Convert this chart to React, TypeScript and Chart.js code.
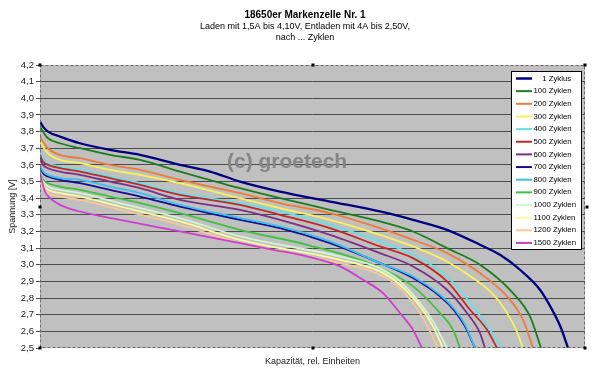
import React, { useEffect, useRef } from 'react';
import { Chart, registerables } from 'chart.js';

Chart.register(...registerables);

const FONT = '"Liberation Sans", Arial, Helvetica, sans-serif';

// ---- Data (capacity in relative units, voltage in V) ----
const seriesLabels = [
  '1 Zyklus', '100 Zyklen', '200 Zyklen', '300 Zyklen', '400 Zyklen', '500 Zyklen', '600 Zyklen',
  '700 Zyklen', '800 Zyklen', '900 Zyklen', '1000 Zyklen', '1100 Zyklen', '1200 Zyklen', '1500 Zyklen',
];
const seriesColors = [
  '#000080', '#1b7d1b', '#ef7b38', '#f8f25a', '#5fe3e8', '#c4262a', '#7b2f86',
  '#101090', '#3cbef0', '#3fc23f', '#d2f5d2', '#fafaa0', '#f5c79a', '#d03cd0',
];

const capZ1 = [0, 3, 8, 20, 40, 70, 100, 140, 170, 200, 240, 290, 340, 373, 407, 440, 460, 480, 500, 513, 521, 528];
const voltZ1 = [3.86, 3.83, 3.8, 3.77, 3.73, 3.69, 3.66, 3.6, 3.56, 3.5, 3.44, 3.38, 3.32, 3.27, 3.21, 3.12, 3.06, 2.97, 2.85, 2.72, 2.62, 2.5];

const capZ100 = [0, 3, 8, 20, 40, 70, 100, 140, 200, 240, 290, 340, 373, 407, 440, 473, 490, 501];
const voltZ100 = [3.83, 3.8, 3.76, 3.73, 3.7, 3.66, 3.63, 3.56, 3.46, 3.4, 3.33, 3.26, 3.2, 3.1, 3.0, 2.83, 2.69, 2.5];

const capZ200 = [0, 3, 8, 20, 40, 70, 100, 140, 200, 240, 290, 340, 373, 407, 440, 467, 483, 493];
const voltZ200 = [3.77, 3.74, 3.7, 3.66, 3.64, 3.6, 3.57, 3.51, 3.43, 3.37, 3.31, 3.22, 3.15, 3.07, 2.95, 2.81, 2.67, 2.5];

const capZ300 = [0, 3, 8, 20, 40, 70, 100, 140, 200, 240, 290, 340, 373, 407, 440, 455, 467, 476, 483];
const voltZ300 = [3.75, 3.71, 3.67, 3.63, 3.61, 3.57, 3.54, 3.49, 3.4, 3.34, 3.27, 3.18, 3.11, 3.02, 2.89, 2.81, 2.71, 2.61, 2.5];

const capZ400 = [0, 3, 8, 20, 40, 70, 100, 140, 200, 240, 290, 340, 373, 407, 433, 450, 462];
const voltZ400 = [3.67, 3.64, 3.61, 3.59, 3.57, 3.53, 3.49, 3.43, 3.37, 3.32, 3.24, 3.14, 3.06, 2.93, 2.75, 2.61, 2.5];

const capZ500 = [0, 3, 8, 20, 40, 70, 100, 140, 200, 240, 290, 340, 373, 407, 430, 447, 457];
const voltZ500 = [3.66, 3.62, 3.6, 3.58, 3.56, 3.52, 3.48, 3.42, 3.36, 3.3, 3.22, 3.11, 3.04, 2.9, 2.73, 2.61, 2.5];

const capZ600 = [0, 3, 8, 20, 40, 70, 100, 140, 200, 240, 290, 340, 373, 407, 427, 440, 445];
const voltZ600 = [3.64, 3.6, 3.58, 3.56, 3.54, 3.5, 3.46, 3.39, 3.33, 3.27, 3.18, 3.07, 2.99, 2.85, 2.71, 2.59, 2.5];

const capZ700 = [0, 3, 8, 20, 40, 70, 100, 140, 200, 240, 290, 340, 373, 400, 415, 425, 435];
const voltZ700 = [3.59, 3.55, 3.53, 3.51, 3.49, 3.45, 3.41, 3.35, 3.27, 3.22, 3.13, 3.01, 2.92, 2.81, 2.72, 2.63, 2.5];

const capZ800 = [0, 3, 8, 20, 40, 70, 100, 140, 200, 240, 290, 340, 373, 400, 415, 425, 435];
const voltZ800 = [3.6, 3.56, 3.54, 3.52, 3.51, 3.47, 3.43, 3.36, 3.28, 3.23, 3.14, 3.01, 2.93, 2.82, 2.73, 2.64, 2.5];

const capZ900 = [0, 3, 8, 20, 40, 70, 100, 140, 200, 267, 333, 373, 400, 413, 420];
const voltZ900 = [3.55, 3.51, 3.49, 3.47, 3.45, 3.41, 3.37, 3.31, 3.21, 3.12, 3.0, 2.87, 2.71, 2.61, 2.5];

const capZ1000 = [0, 3, 8, 20, 40, 80, 140, 200, 300, 340, 360, 380, 393, 407];
const voltZ1000 = [3.54, 3.5, 3.47, 3.45, 3.43, 3.37, 3.28, 3.17, 3.05, 2.98, 2.9, 2.77, 2.66, 2.5];

const capZ1100 = [0, 3, 8, 20, 40, 80, 140, 200, 300, 340, 360, 380, 393, 403];
const voltZ1100 = [3.52, 3.48, 3.45, 3.43, 3.41, 3.35, 3.26, 3.15, 3.03, 2.96, 2.88, 2.75, 2.63, 2.5];

const capZ1200 = [0, 3, 8, 20, 40, 80, 140, 200, 300, 340, 360, 380, 390, 398];
const voltZ1200 = [3.5, 3.46, 3.43, 3.41, 3.39, 3.33, 3.24, 3.13, 3.01, 2.94, 2.86, 2.71, 2.6, 2.5];

const capZ1500 = [0, 2, 5, 10, 20, 40, 80, 140, 200, 233, 267, 300, 323, 343, 360, 373, 382];
const voltZ1500 = [3.55, 3.5, 3.44, 3.4, 3.36, 3.32, 3.27, 3.2, 3.13, 3.09, 3.05, 2.99, 2.91, 2.83, 2.71, 2.61, 2.5];

const capacities = [capZ1, capZ100, capZ200, capZ300, capZ400, capZ500, capZ600, capZ700, capZ800, capZ900, capZ1000, capZ1100, capZ1200, capZ1500];
const voltages = [voltZ1, voltZ100, voltZ200, voltZ300, voltZ400, voltZ500, voltZ600, voltZ700, voltZ800, voltZ900, voltZ1000, voltZ1100, voltZ1200, voltZ1500];

const titleText = '18650er Markenzelle Nr. 1';
const subtitleLines = ['Laden mit 1,5A bis 4,10V, Entladen mit 4A bis 2,50V,', 'nach ... Zyklen'];
const yAxisTitle = 'Spannung [V]';
const xAxisTitle = 'Kapazität, rel. Einheiten';
const watermarkText = '(c) groetech';
const yMin = 2.5;
const yMax = 4.2;
const yStep = 0.1;
const xMax = 545;

const widthFor = (i: number) => (i === 0 ? 2.3 : 1.8);

const decorPlugin = {
  id: 'decor',
  beforeDraw(chart: any) {
    const { ctx, chartArea: a } = chart;
    ctx.save();
    ctx.fillStyle = '#ffffff';
    ctx.fillRect(0, 0, chart.width, chart.height);
    ctx.fillStyle = '#c0c0c0';
    ctx.fillRect(a.left, a.top, a.right - a.left, a.bottom - a.top);
    ctx.restore();
  },
  beforeDatasetsDraw(chart: any) {
    const { ctx, chartArea: a } = chart;
    ctx.save();
    ctx.font = `bold 21px ${FONT}`;
    ctx.fillStyle = '#858585';
    ctx.textAlign = 'left';
    ctx.textBaseline = 'middle';
    ctx.fillText(watermarkText, a.left + 187, a.top + 97);
    ctx.restore();
  },
  afterDraw(chart: any) {
    const { ctx, chartArea: a } = chart;
    ctx.save();
    // dashed plot border
    ctx.strokeStyle = '#6a6a6a';
    ctx.lineWidth = 1;
    ctx.setLineDash([3, 2]);
    ctx.strokeRect(a.left + 0.5, a.top + 0.5, a.right - a.left - 1, a.bottom - a.top - 1);
    ctx.setLineDash([]);
    // selection handles
    ctx.fillStyle = '#000';
    const mx = (a.left + a.right) / 2;
    const my = (a.top + a.bottom) / 2;
    const pts = [
      [a.left, a.top], [mx, a.top], [a.right, a.top],
      [a.left, my], [a.right + 2, my],
      [a.left, a.bottom], [mx, a.bottom], [a.right, a.bottom],
    ];
    pts.forEach(([x, y]) => ctx.fillRect(Math.round(x) - 1.5, Math.round(y) - 1.5, 3, 3));

    // legend
    const bx = a.right - 73.5;
    const by = a.top + 6.5;
    const bw = 70;
    const bh = 178;
    ctx.fillStyle = '#ffffff';
    ctx.fillRect(bx, by, bw, bh);
    ctx.strokeStyle = '#000';
    ctx.lineWidth = 1;
    ctx.strokeRect(bx, by, bw, bh);
    ctx.font = `7.8px ${FONT}`;
    ctx.textBaseline = 'middle';
    ctx.textAlign = 'left';
    const digitW = ctx.measureText('00').width;
    seriesLabels.forEach((label, i) => {
      const y = by + 7 + i * 12.65;
      ctx.strokeStyle = seriesColors[i];
      ctx.lineWidth = widthFor(i) + 0.2;
      ctx.beginPath();
      ctx.moveTo(bx + 4.5, y);
      ctx.lineTo(bx + 20.5, y);
      ctx.stroke();
      ctx.fillStyle = '#000';
      const tx = bx + 22 + (i === 0 ? digitW : 0);
      ctx.fillText(label, tx, y);
    });
    ctx.restore();
  },
};

export default function App() {
  const ref = useRef<HTMLCanvasElement>(null);

  useEffect(() => {
    document.body.style.margin = '0';
    const canvas = ref.current;
    if (!canvas) return;

    const datasets = seriesLabels.map((label, i) => ({
      label,
      data: capacities[i].map((c, j) => ({ x: c, y: voltages[i][j] })),
      borderColor: seriesColors[i],
      backgroundColor: seriesColors[i],
      borderWidth: widthFor(i),
      pointRadius: 0,
      fill: false,
      cubicInterpolationMode: 'monotone' as const,
      order: -i,
    }));

    const chart = new Chart(canvas, {
      type: 'line',
      data: { datasets },
      plugins: [decorPlugin],
      options: {
        animation: false,
        responsive: false,
        devicePixelRatio: 1,
        layout: { padding: { left: 10, right: 0, top: 0, bottom: 0 } },
        plugins: {
          legend: { display: false },
          tooltip: { enabled: false },
          title: {
            display: true,
            text: titleText,
            color: '#000',
            font: { family: FONT, size: 10, weight: 'bold', lineHeight: 1.2 },
            padding: { top: 9, bottom: 0 },
            fullSize: true,
          },
          subtitle: {
            display: true,
            text: subtitleLines,
            color: '#000',
            font: { family: FONT, size: 9, lineHeight: 1.2 },
            padding: { top: 0, bottom: 22.4 },
            fullSize: true,
          },
        },
        scales: {
          x: {
            type: 'linear',
            min: 0,
            max: xMax,
            grid: { display: false },
            border: { display: false },
            ticks: { display: false },
            title: {
              display: true,
              text: xAxisTitle,
              color: '#222',
              font: { family: FONT, size: 9, lineHeight: 1.2 },
              padding: { top: 0, bottom: 6.6 },
            },
            afterFit: (scale: any) => { scale.height = 26; },
          },
          y: {
            type: 'linear',
            position: 'left',
            min: yMin,
            max: yMax,
            border: { display: false },
            grid: {
              color: (ctx: any) => {
                const v = ctx.tick ? ctx.tick.value : 0;
                return Math.abs(v - yMin) < 1e-6 || Math.abs(v - yMax) < 1e-6 ? 'rgba(0,0,0,0)' : '#4d4d4d';
              },
              tickColor: '#4d4d4d',
              lineWidth: 1,
              drawTicks: true,
              tickLength: 4,
            },
            ticks: {
              stepSize: yStep,
              autoSkip: false,
              padding: 2,
              color: '#222',
              font: { family: FONT, size: 9.5 },
              callback: (v: any) => Number(v).toFixed(1).replace('.', ','),
            },
            title: {
              display: true,
              text: yAxisTitle,
              color: '#222',
              font: { family: FONT, size: 9, lineHeight: 1.2 },
              padding: { top: -3, bottom: 0 },
            },
            afterFit: (scale: any) => { scale.width = 30; },
          },
          yRight: {
            type: 'linear',
            position: 'right',
            display: true,
            grid: { display: false },
            border: { display: false },
            ticks: { display: false },
            afterFit: (scale: any) => { scale.width = 15; },
          },
        },
      } as any,
    });

    return () => chart.destroy();
  }, []);

  return (
    <canvas
      ref={ref}
      width={600}
      height={374}
      style={{ display: 'block', width: '600px', height: '374px' }}
    />
  );
}
